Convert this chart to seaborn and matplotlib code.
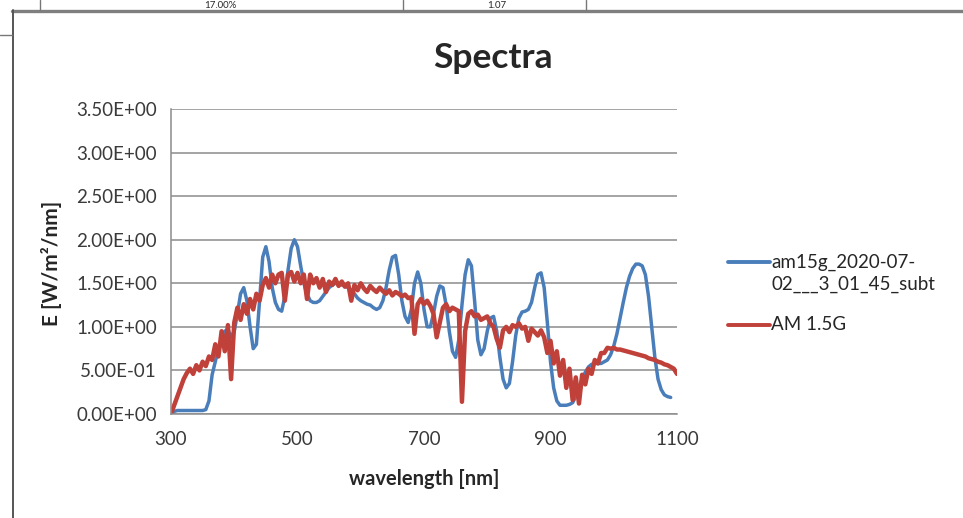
import numpy as np
import pandas as pd
import matplotlib
matplotlib.use("Agg")
import matplotlib.pyplot as plt
from matplotlib.lines import Line2D
from matplotlib.ticker import FuncFormatter
import seaborn as sns

meas_label = "am15g_2020-07-\n02___3_01_45_subt"
meas_wl = np.arange(300, 1091, 5)
meas_e = [
    0.00, 0.03, 0.04, 0.04, 0.04, 0.04, 0.04, 0.04, 0.04, 0.04,
    0.04, 0.05, 0.15, 0.45, 0.60, 0.75, 0.85, 0.95, 0.97, 0.88,
    0.95, 1.15, 1.38, 1.45, 1.30, 1.00, 0.75, 0.80, 1.30, 1.80,
    1.92, 1.75, 1.45, 1.28, 1.20, 1.18, 1.35, 1.65, 1.90, 2.00,
    1.92, 1.70, 1.50, 1.38, 1.30, 1.28, 1.28, 1.30, 1.35, 1.40,
    1.45, 1.48, 1.50, 1.50, 1.48, 1.47, 1.45, 1.42, 1.38, 1.33,
    1.30, 1.28, 1.26, 1.25, 1.22, 1.20, 1.22, 1.30, 1.45, 1.65,
    1.80, 1.82, 1.60, 1.30, 1.12, 1.05, 1.20, 1.50, 1.63, 1.50,
    1.20, 1.00, 1.00, 1.15, 1.35, 1.47, 1.45, 1.25, 0.95, 0.72,
    0.65, 0.85, 1.25, 1.60, 1.77, 1.70, 1.30, 0.85, 0.68, 0.75,
    0.95, 1.10, 1.12, 0.95, 0.65, 0.40, 0.30, 0.35, 0.60, 0.90,
    1.10, 1.17, 1.18, 1.20, 1.28, 1.45, 1.60, 1.62, 1.45, 1.05,
    0.60, 0.30, 0.15, 0.10, 0.10, 0.10, 0.11, 0.13, 0.20, 0.30,
    0.40, 0.48, 0.54, 0.57, 0.58, 0.58, 0.58, 0.60, 0.62, 0.68,
    0.78, 0.92, 1.10, 1.28, 1.45, 1.58, 1.67, 1.72, 1.72, 1.70,
    1.60, 1.35, 1.00, 0.65, 0.40, 0.28, 0.22, 0.20, 0.19,
]

# reference AM 1.5G spectrum
ref_label = "AM 1.5G"
ref_wl = np.arange(300, 1101, 5)
ref_e = [
    0.00, 0.10, 0.20, 0.30, 0.40, 0.47, 0.52, 0.46, 0.56, 0.50,
    0.60, 0.55, 0.66, 0.62, 0.80, 0.66, 0.95, 0.72, 1.02, 0.40,
    1.05, 1.22, 1.08, 1.26, 1.15, 1.32, 1.20, 1.38, 1.30, 1.48,
    1.56, 1.45, 1.60, 1.50, 1.60, 1.62, 1.30, 1.60, 1.63, 1.52,
    1.62, 1.50, 1.60, 1.32, 1.60, 1.50, 1.56, 1.45, 1.55, 1.40,
    1.52, 1.48, 1.55, 1.47, 1.52, 1.46, 1.50, 1.30, 1.48, 1.42,
    1.50, 1.44, 1.40, 1.47, 1.43, 1.40, 1.45, 1.41, 1.38, 1.42,
    1.36, 1.40, 1.38, 1.35, 1.37, 1.33, 1.34, 0.92, 1.26, 1.32,
    1.26, 1.30, 1.24, 1.15, 0.88, 1.05, 1.22, 1.26, 1.18, 1.22,
    1.20, 1.18, 0.14, 0.95, 1.15, 1.18, 1.12, 1.14, 1.08, 1.10,
    1.12, 1.04, 1.00, 0.86, 0.76, 0.96, 1.00, 0.94, 1.02, 1.00,
    1.04, 0.98, 1.00, 0.84, 0.98, 0.94, 0.90, 0.96, 0.88, 0.70,
    0.84, 0.58, 0.72, 0.44, 0.62, 0.30, 0.52, 0.16, 0.42, 0.12,
    0.45, 0.34, 0.52, 0.46, 0.62, 0.58, 0.70, 0.70, 0.76, 0.75,
    0.76, 0.74, 0.74, 0.73, 0.72, 0.71, 0.70, 0.69, 0.68, 0.67,
    0.66, 0.64, 0.63, 0.62, 0.60, 0.59, 0.57, 0.56, 0.54, 0.52,
    0.46,
]

x_ticks = [300, 500, 700, 900, 1100]
y_ticks = [0.0, 0.5, 1.0, 1.5, 2.0, 2.5, 3.0, 3.5]
colors = ["#4a7ebb", "#c0403a"]

df = pd.concat([
    pd.DataFrame({"wavelength": meas_wl, "E": meas_e, "series": meas_label}),
    pd.DataFrame({"wavelength": ref_wl, "E": ref_e, "series": ref_label}),
])

sns.set_style("white")
plt.rcParams["font.family"] = ["Lato", "DejaVu Sans"]

W, H = 963, 518
fig = plt.figure(figsize=(W / 100, H / 100), dpi=100)

def fx(px):
    return px / W

def fy(py):
    return 1 - py / H

ax = fig.add_axes([fx(171), fy(414), fx(677) - fx(171), fy(109) - fy(414)])

sns.lineplot(data=df, x="wavelength", y="E", hue="series",
             hue_order=[meas_label, ref_label], palette=colors,
             estimator=None, linewidth=2.5, legend=False, ax=ax)
# the reference curve is drawn a bit heavier
ax.lines[1].set_linewidth(3.2)

grid_c = "#8c8c8c"
ax.set_xlim(300, 1100)
ax.set_ylim(0, 3.5)
ax.set_xticks(x_ticks)
ax.set_yticks(y_ticks)
ax.yaxis.set_major_formatter(FuncFormatter(lambda v, p: f"{v:.2E}"))
ax.yaxis.grid(True, color=grid_c, linewidth=1.1)
ax.xaxis.grid(False)
ax.set_axisbelow(True)
for s in ["top", "right"]:
    ax.spines[s].set_visible(False)
for s in ["left", "bottom"]:
    ax.spines[s].set_color(grid_c)
    ax.spines[s].set_linewidth(1.1)
ax.tick_params(axis="both", direction="out", length=5, width=1.1, color=grid_c,
               labelsize=13.5, labelcolor="#3a3a3a")
ax.tick_params(axis="y", pad=5)
ax.tick_params(axis="x", pad=7)
ax.set_xlabel("")
ax.set_ylabel("")

# titles and axis labels
fig.text(fx(493), fy(58), "Spectra", ha="center", va="center",
         fontsize=25.5, fontweight="bold")
fig.text(fx(424), fy(479), "wavelength [nm]", ha="center", va="center",
         fontsize=14.5, fontweight="bold")
fig.text(fx(52), fy(263), "E [W/m²/nm]", ha="center", va="center",
         rotation=90, fontsize=15, fontweight="bold")

# legend, drawn by hand so the line sits on the first text row
for c, ly in zip(colors, [262, 325]):
    fig.add_artist(Line2D([fx(728), fx(770)], [fy(ly), fy(ly)], color=c, linewidth=2.8))
fig.text(fx(771), fy(262), "am15g_2020-07-", ha="left", va="center", fontsize=13.5)
fig.text(fx(771), fy(284), "02___3_01_45_subt", ha="left", va="center", fontsize=13.5)
fig.text(fx(771), fy(325), ref_label, ha="left", va="center", fontsize=13.5)

# chart frame and bits of the worksheet above it
fig.add_artist(Line2D([fx(12), fx(963)], [fy(11), fy(11)], color="#7f7f7f", linewidth=2.4))
fig.add_artist(Line2D([fx(12.5), fx(12.5)], [fy(10), fy(518)], color="#555555", linewidth=1.4))
fig.add_artist(Line2D([0, fx(12)], [fy(35), fy(35)], color="#777777", linewidth=1))
for vx in [40, 403, 586]:
    fig.add_artist(Line2D([fx(vx), fx(vx)], [fy(0), fy(10)], color="#777777", linewidth=1))
fig.text(fx(220), fy(5), "17.00%", ha="center", va="center", fontsize=7)
fig.text(fx(497), fy(5), "1.07", ha="center", va="center", fontsize=7)

fig.savefig("out.png", dpi=100)
